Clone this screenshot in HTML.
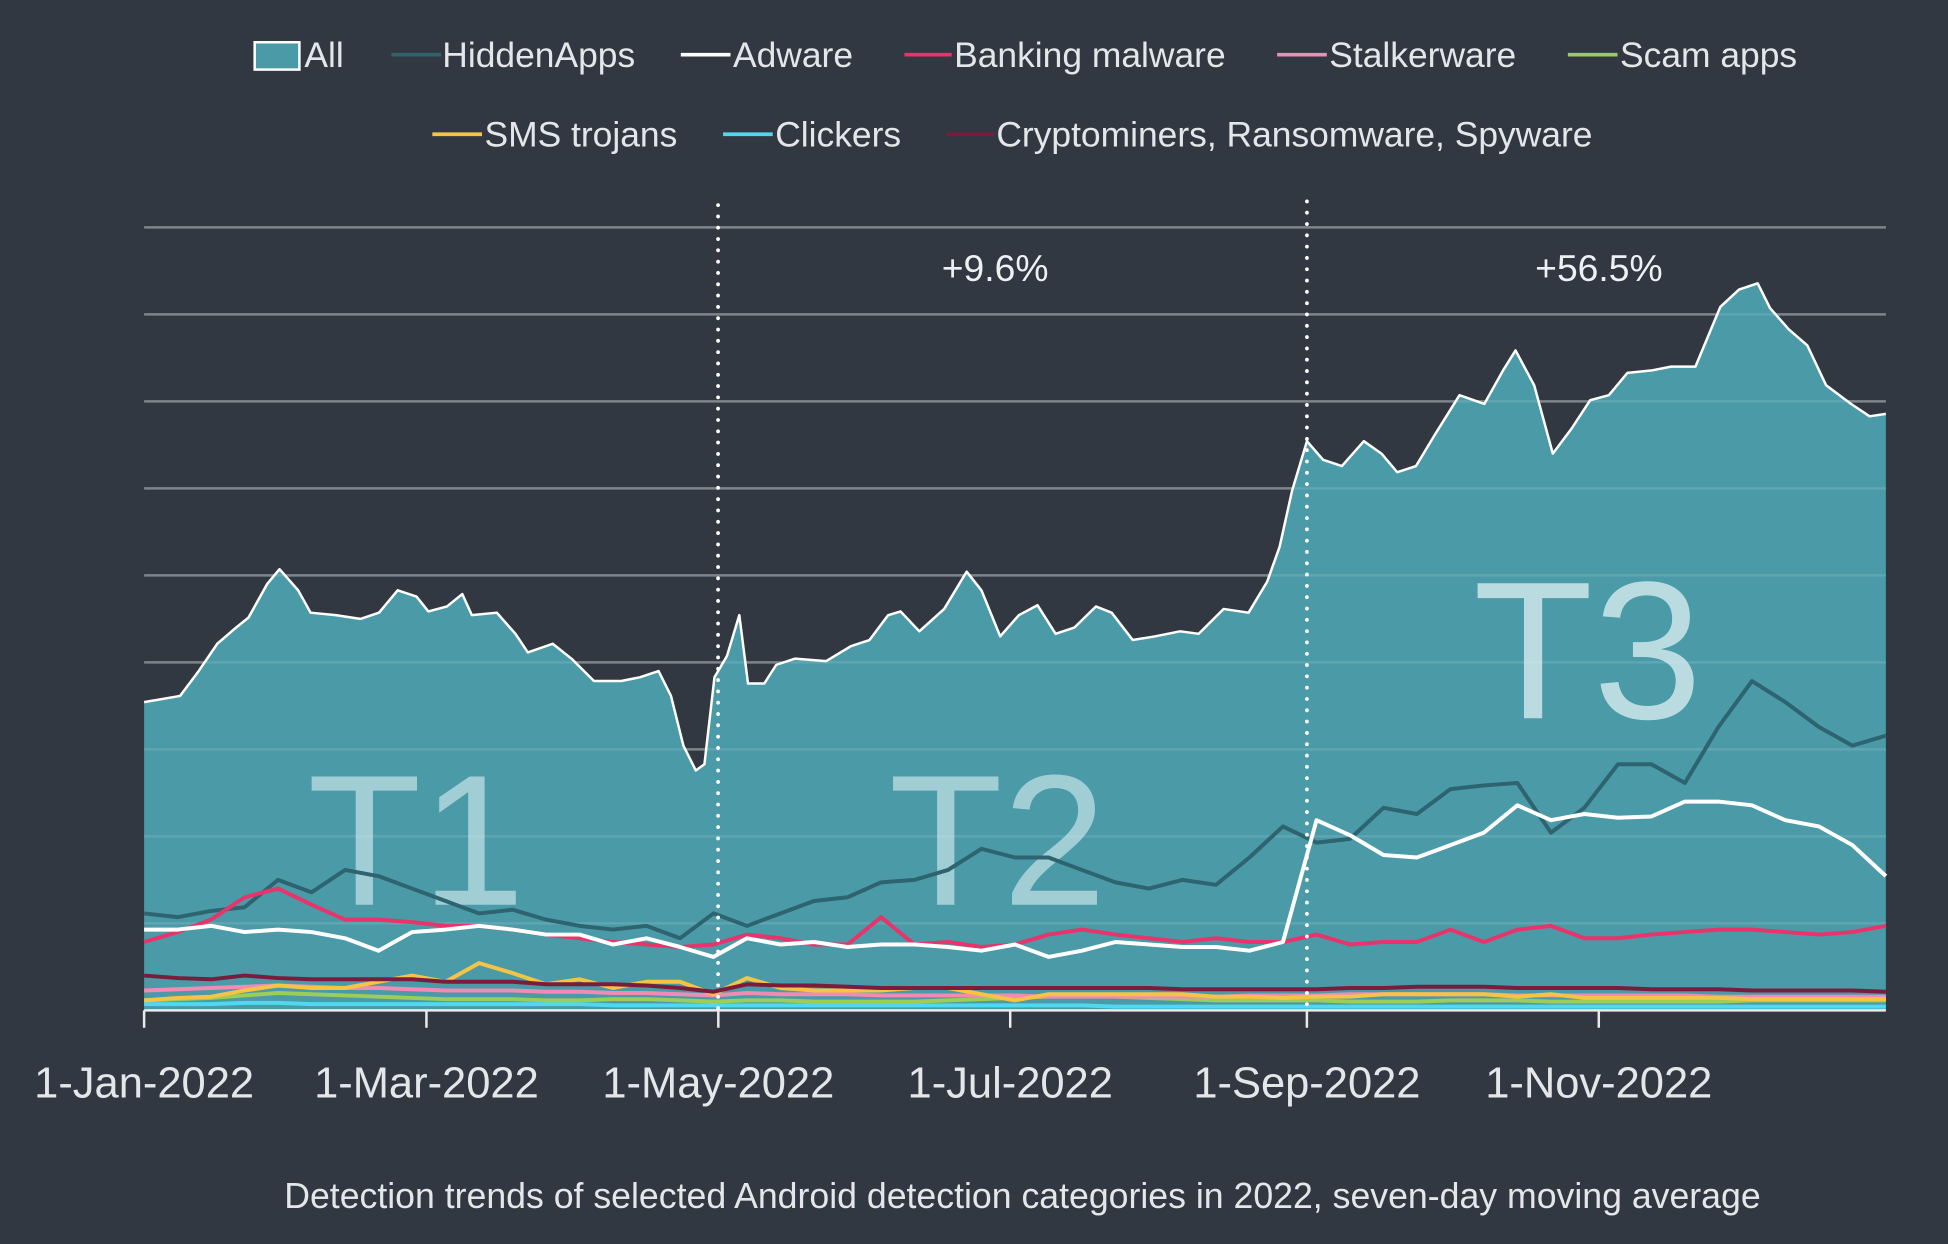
<!DOCTYPE html>
<html><head><meta charset="utf-8"><style>
html,body{margin:0;padding:0;background:#323841;}
svg{display:block;font-family:"Liberation Sans",sans-serif;}
</style></head><body>
<svg id="chart" width="1948" height="1244" viewBox="0 0 1568 1001" preserveAspectRatio="none" xmlns="http://www.w3.org/2000/svg">
<rect width="1568" height="1001" fill="#323841"/>
<g id="grid"></g>
<g id="area"></g>
<g id="grid2"></g>
<g id="labels-t">
<text x="335" y="728" font-size="150" fill="#c4e2e6" fill-opacity="0.72" text-anchor="middle">T1</text>
<text x="803" y="728" font-size="150" fill="#c4e2e6" fill-opacity="0.72" text-anchor="middle">T2</text>
<text x="1278" y="578" font-size="158" fill="#d6ecef" fill-opacity="0.8" text-anchor="middle">T3</text>
</g>
<g id="lines"></g>
<g id="axis"></g>
<line x1="578" y1="165" x2="578" y2="813" stroke="#fff" stroke-width="3" stroke-dasharray="0.1 9" stroke-linecap="round"/>
<line x1="1052" y1="162" x2="1052" y2="813" stroke="#fff" stroke-width="3" stroke-dasharray="0.1 9" stroke-linecap="round"/>
<text x="801" y="226" font-size="30" fill="#eef1f3" text-anchor="middle">+9.6%</text>
<text x="1287" y="226" font-size="30" fill="#eef1f3" text-anchor="middle">+56.5%</text>
<g id="legend" font-size="28.5" fill="#e4e7ea">
<rect x="205" y="34" width="36" height="22" fill="#4a9aa8" stroke="#fff" stroke-width="2"/>
<text x="245" y="54">All</text>
<line x1="315" y1="44" x2="355" y2="44" stroke="#2e6470" stroke-width="3"/>
<text x="356" y="54">HiddenApps</text>
<line x1="548" y1="44" x2="588" y2="44" stroke="#fff" stroke-width="3"/>
<text x="590" y="54">Adware</text>
<line x1="728" y1="44" x2="766" y2="44" stroke="#e8336b" stroke-width="3"/>
<text x="768" y="54">Banking malware</text>
<line x1="1028" y1="44" x2="1068" y2="44" stroke="#f08cb4" stroke-width="3"/>
<text x="1070" y="54">Stalkerware</text>
<line x1="1262" y1="44" x2="1302" y2="44" stroke="#9ccc5a" stroke-width="3"/>
<text x="1304" y="54">Scam apps</text>
<line x1="348" y1="108" x2="388" y2="108" stroke="#f6c445" stroke-width="3"/>
<text x="390" y="118">SMS trojans</text>
<line x1="582" y1="108" x2="622" y2="108" stroke="#4fd8f0" stroke-width="3"/>
<text x="624" y="118">Clickers</text>
<line x1="762" y1="108" x2="800" y2="108" stroke="#7a1c3c" stroke-width="3"/>
<text x="802" y="118">Cryptominers, Ransomware, Spyware</text>
</g>
<text x="823" y="972" font-size="28.7" fill="#e4e7ea" text-anchor="middle">Detection trends of selected Android detection categories in 2022, seven-day moving average</text>
</svg>
<script>
const allDays=[0,7.5,11.4,15.3,19.2,21.8,25.7,28.3,32.2,34.8,40,45.2,49.1,53,56.9,59.4,63.3,66.5,68.5,73.7,77.6,80.2,85.4,89.3,94,99.7,103.6,107.5,110.1,112.7,115.3,117.1,119.2,121.8,124.4,126.2,129.6,132.1,136,142.5,147.7,151.6,155.5,158.1,162,167.2,171.9,175,178.9,182.8,186.7,190.5,194.4,198.9,202.2,206.6,211.3,216.5,220.4,225.6,230.8,234.7,237.3,239.9,243,246.4,250.3,254.9,258.6,261.9,265.8,269.7,274.9,280.1,284,286.6,290.5,294.4,298.3,302.2,306.1,310,315.2,319.1,324.2,329.4,333.3,337.2,339.8,343.7,347.6,351.5,356.7,360.6,364];
const allValues=[248,253,273,295,308,316,343,355,338,320,318,315,320,338,333,321,325,335,318,320,303,288,295,283,265,265,268,273,253,213,193,198,268,285,318,263,263,278,283,281,293,298,318,321,305,323,353,338,301,318,326,303,308,325,320,298,301,305,303,323,320,345,373,418,458,443,438,458,448,433,438,463,495,488,515,531,503,448,468,491,495,513,515,518,518,566,580,585,565,548,535,503,488,478,480];
const weekDays=[0,7,14,21,28,35,42,49,56,63,70,77,84,91,98,105,112,119,126,133,140,147,154,161,168,175,182,189,196,203,210,217,224,231,238,245,252,259,266,273,280,287,294,301,308,315,322,329,336,343,350,357,364];
const hiddenApps=[78,75,80,83,105,95,113,108,98,88,78,81,73,68,65,68,58,78,68,78,88,91,103,105,113,130,123,123,113,103,98,105,101,123,148,135,138,163,158,178,181,183,143,163,198,198,183,228,265,248,228,213,221];
const adware=[65,65,68,63,65,63,58,48,63,65,68,65,61,61,53,58,51,43,58,53,55,51,53,53,51,48,53,43,48,55,53,51,51,48,55,153,141,125,123,133,143,165,153,158,155,156,168,168,165,153,148,133,108];
const banking=[55,63,73,91,98,85,73,73,71,68,68,65,61,58,55,53,51,53,61,58,53,53,75,53,55,51,53,61,65,61,58,55,58,55,55,61,53,55,55,65,55,65,68,58,58,61,63,65,65,63,61,63,68];
const crypto=[28,26,25,28,26,25,25,25,25,23,23,23,21,21,21,20,18,15,21,20,20,19,18,18,18,18,18,18,18,18,18,17,17,17,17,17,18,18,19,19,19,18,18,18,18,17,17,17,16,16,16,16,15];
const smsTrojans=[8,10,11,16,20,18,18,23,28,23,38,30,21,25,18,23,23,13,26,18,16,16,16,18,18,13,8,13,13,13,13,13,11,11,10,11,11,13,13,13,13,11,13,10,10,10,10,10,9,9,9,9,9];
const stalkerware=[16,17,18,19,20,19,18,18,17,16,16,16,15,15,14,14,13,12,14,13,13,13,12,12,12,12,12,11,11,11,11,11,11,12,12,12,13,13,13,13,13,12,12,12,12,12,12,11,11,11,11,11,11];
const scamApps=[8,9,10,12,14,13,12,11,10,9,9,9,8,8,9,9,8,7,8,8,7,7,7,7,8,9,10,11,12,11,10,9,8,8,8,8,7,7,7,8,8,8,7,7,7,7,7,7,8,8,8,8,8];
const clickers=[5,5,5,6,6,5,5,5,5,5,5,5,5,5,4,4,4,4,4,4,4,4,4,4,4,4,4,4,4,3,3,3,3,3,3,3,3,3,3,3,3,3,3,3,3,3,3,3,3,3,3,3,3];
const tickDays=[0,59,120,181,243,304];
const tickLabels=["1-Jan-2022","1-Mar-2022","1-May-2022","1-Jul-2022","1-Sep-2022","1-Nov-2022"];
const gridValues=[0,70,140,210,280,350,420,490,560,630];

const NS="http://www.w3.org/2000/svg";
const X0=116,X1=1518,Y0=813,YT=183;
function xs(d){return X0+(X1-X0)*d/364;}
function ys(v){return Y0-(Y0-YT)*v/630;}
function mk(tag,attrs,parent){const e=document.createElementNS(NS,tag);for(const k in attrs)e.setAttribute(k,attrs[k]);parent.appendChild(e);return e;}
const grid=document.getElementById('grid'),grid2=document.getElementById('grid2');
gridValues.forEach(v=>{
  if(v===0)return;
  const l=mk('line',{x1:X0,x2:X1,y1:ys(v),y2:ys(v),stroke:'#6c737c','stroke-width':2},grid);
  
  
  const l2=mk('line',{x1:X0,x2:X1,y1:ys(v),y2:ys(v),stroke:'#ffffff','stroke-opacity':0.12,'stroke-width':2},grid2);
  
  
});
const area=document.getElementById('area');
let p='M'+xs(allDays[0])+','+ys(0);
allDays.forEach((d,i)=>{p+=' L'+xs(d).toFixed(1)+','+ys(allValues[i]).toFixed(1);});
p+=' L'+xs(allDays[allDays.length-1])+','+ys(0)+' Z';
const a=mk('path',{d:p,fill:'#4a9aa8'},area);


let lp='';
allDays.forEach((d,i)=>{lp+=(i?' L':'M')+xs(d).toFixed(1)+','+ys(allValues[i]).toFixed(1);});
const al=mk('path',{d:lp,fill:'none',stroke:'#fff','stroke-width':2,'stroke-linejoin':'round'},area);


const lines=document.getElementById('lines');
const series=[
 ['clickers-line',clickers,'#4fd8f0'],
 ['scam-apps-line',scamApps,'#9ccc5a'],
 ['stalkerware-line',stalkerware,'#f08cb4'],
 ['sms-trojans-line',smsTrojans,'#f6c445'],
 ['cryptominers-line',crypto,'#7a1c3c'],
 ['hiddenapps-line',hiddenApps,'#2e6470'],
 ['banking-malware-line',banking,'#e8336b'],
 ['adware-line',adware,'#ffffff']];
series.forEach(s=>{
  let d='';const n=Math.min(weekDays.length,s[1].length);
  for(let i=0;i<n;i++)d+=(i?' L':'M')+xs(weekDays[i]).toFixed(1)+','+ys(s[1][i]).toFixed(1);
  const e=mk('path',{d:d,fill:'none',stroke:s[2],'stroke-width':3.2,'stroke-linejoin':'round'},lines);
  
  
});
const axis=document.getElementById('axis');
const base=mk('line',{x1:X0,x2:X1,y1:Y0,y2:Y0,stroke:'#e8eaec','stroke-width':2},axis);


tickDays.forEach((d,i)=>{
  const t=mk('line',{x1:xs(d),x2:xs(d),y1:Y0,y2:Y0+14,stroke:'#e8eaec','stroke-width':2},axis);
  
  
  const tx=mk('text',{x:xs(d),y:883,'font-size':35,fill:'#e4e7ea','text-anchor':'middle'},axis);
  tx.textContent=tickLabels[i];
  
  
});
</script>
</body></html>
